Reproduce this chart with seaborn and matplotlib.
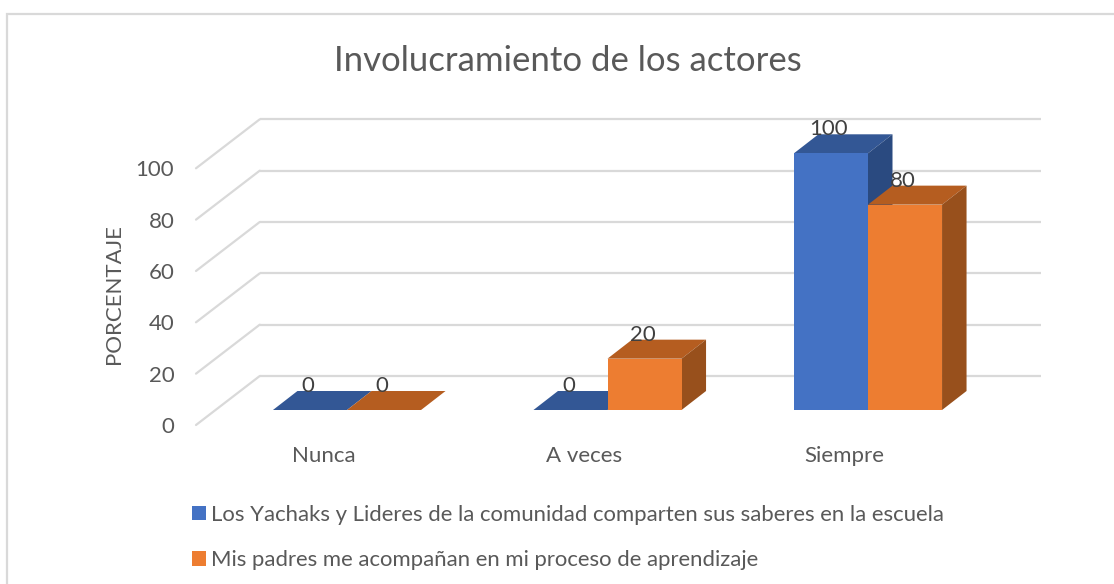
import numpy as np
import pandas as pd
import seaborn as sns
import matplotlib
matplotlib.use('Agg')
import matplotlib.pyplot as plt
from matplotlib.patches import Polygon, Rectangle
from matplotlib.transforms import ScaledTranslation, IdentityTransform

categories = ['Nunca', 'A veces', 'Siempre']
series_names = ['Los Yachaks y Lideres de la comunidad comparten sus saberes en la escuela',
                'Mis padres me acompañan en mi proceso de aprendizaje']
yachaks = [0, 0, 100]
padres = [0, 20, 80]
y_ticks = [0, 20, 40, 60, 80, 100]

front_colors = ['#4472C4', '#ED7D31']
top_colors = ['#335795', '#B55D20']
side_colors = ['#2A4A80', '#98501C']
text_color = '#595959'
grid_color = '#D9D9D9'

W, H = 1114, 584
DPI = 100

sns.set_theme(style='white')
plt.rcParams['font.family'] = ['Lato', 'DejaVu Sans']

data = pd.DataFrame({
    'categoria': categories * 2,
    'serie': [series_names[0]] * 3 + [series_names[1]] * 3,
    'valor': yachaks + padres,
})

fig = plt.figure(figsize=(W / DPI, H / DPI), dpi=DPI)
# axes box is the plane through the bars' front faces
left, right, top, bottom = 216.75, 998.25, 153.3, 410
ax = fig.add_axes([left / W, 1 - bottom / H, (right - left) / W, (bottom - top) / H])

sns.barplot(data=data, x='categoria', y='valor', hue='serie', hue_order=series_names,
            palette=front_colors, width=0.5685, gap=0, saturation=1, ax=ax, zorder=6,
            linewidth=0)
ax.set_xlim(-0.5, 2.5)
ax.set_ylim(0, 100)
ax.patch.set_alpha(0)
sns.despine(ax=ax, left=True, bottom=True)


def shifted(dx, dy):
    return ax.transData + ScaledTranslation(dx / DPI, dy / DPI, fig.dpi_scale_trans)


px = IdentityTransform()

# walls of the 3d box
FRONT = (-20.75, -15)
BACK = (43, 34)
back_tr = shifted(*BACK)
for v in y_ticks:
    ax.plot([-0.5, 2.5], [v, v], color=grid_color, lw=1.6, transform=back_tr, clip_on=False, zorder=1,
            solid_capstyle='butt')
    p0 = ax.transData.transform((-0.5, v))
    ax.plot([p0[0] + FRONT[0], p0[0] + BACK[0]], [p0[1] + FRONT[1], p0[1] + BACK[1]],
            color=grid_color, lw=1.6, transform=px, clip_on=False, zorder=1)

# depth faces for each bar, taken from what seaborn drew
DX, DY = 24.5, 19
to_px = ax.transData.transform
for s, cont in enumerate(ax.containers):
    z = 2 + s
    for bar in cont:
        x0, y0 = to_px((bar.get_x(), 0))
        x1, y1 = to_px((bar.get_x() + bar.get_width(), bar.get_height()))
        ax.add_patch(Polygon([(x0, y1), (x1, y1), (x1 + DX, y1 + DY), (x0 + DX, y1 + DY)],
                             facecolor=top_colors[s], edgecolor='none', transform=px, clip_on=False, zorder=z))
        if bar.get_height() > 0:
            ax.add_patch(Polygon([(x1, y0), (x1 + DX, y0 + DY), (x1 + DX, y1 + DY), (x1, y1)],
                                 facecolor=side_colors[s], edgecolor='none', transform=px, clip_on=False, zorder=z))
        ax.annotate(f'{bar.get_height():.0f}', (bar.get_x() + bar.get_width() / 2, bar.get_height()),
                    xytext=(-2, 24), textcoords='offset pixels', ha='center', va='center',
                    fontsize=16, color='#404040', annotation_clip=False, zorder=8)

# ticks sit on the front edge of the box
ax.set_yticks(y_ticks)
ax.tick_params(axis='y', length=0, pad=0, labelsize=16, labelcolor=text_color)
for lab in ax.get_yticklabels():
    lab.set_transform(lab.get_transform() + ScaledTranslation(-42.5 / DPI, -15 / DPI, fig.dpi_scale_trans))
ax.tick_params(axis='x', length=0, pad=26, labelsize=16, labelcolor=text_color)
for lab in ax.get_xticklabels():
    lab.set_transform(lab.get_transform() + ScaledTranslation(-23.5 / DPI, 0, fig.dpi_scale_trans))
ax.set_xlabel('')
ax.set_ylabel('')
fig.text(114 / W, 1 - 294 / H, 'PORCENTAJE', rotation=90, ha='center', va='center',
         fontsize=16, color=text_color)
fig.text(568 / W, 1 - 61 / H, 'Involucramiento de los actores', ha='center', va='center',
         fontsize=25, color=text_color)

handles, labels = ax.get_legend_handles_labels()
ax.legend(handles, labels, loc='upper left', bbox_to_anchor=(192 / W, 1 - 505 / H),
          bbox_transform=fig.transFigure, frameon=False, fontsize=15.9, labelcolor=text_color,
          handlelength=0.63, handleheight=0.63, handletextpad=0.25, labelspacing=1.14,
          borderpad=0, borderaxespad=0)

# chart frame, cut off by the screenshot on the right and at the bottom
fig.add_artist(Rectangle((6.5 / W, -0.1), 1.1, 1.1 - 14.5 / H, transform=fig.transFigure,
                         fill=False, edgecolor=grid_color, lw=1.6))

fig.savefig('out.png', dpi=DPI)
